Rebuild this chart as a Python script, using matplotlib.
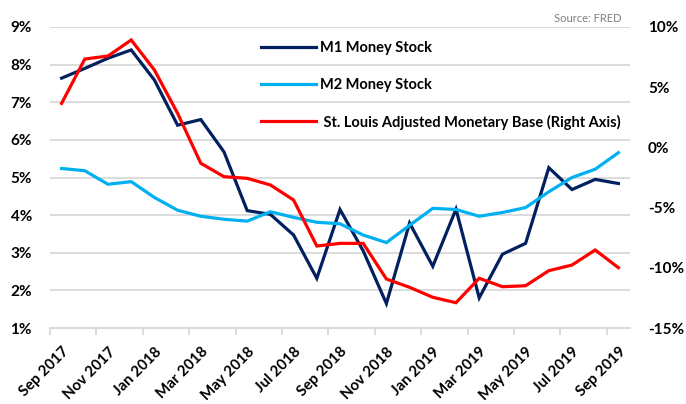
import numpy as np
import matplotlib
matplotlib.use('Agg')
import matplotlib.pyplot as plt
from matplotlib.lines import Line2D
from matplotlib.ticker import FuncFormatter

# monthly observations, Sep 2017 .. Sep 2019
months = ['Sep 2017', 'Oct 2017', 'Nov 2017', 'Dec 2017', 'Jan 2018', 'Feb 2018',
          'Mar 2018', 'Apr 2018', 'May 2018', 'Jun 2018', 'Jul 2018', 'Aug 2018',
          'Sep 2018', 'Oct 2018', 'Nov 2018', 'Dec 2018', 'Jan 2019', 'Feb 2019',
          'Mar 2019', 'Apr 2019', 'May 2019', 'Jun 2019', 'Jul 2019', 'Aug 2019',
          'Sep 2019']

m1 = [7.64, 7.90, 8.17, 8.39, 7.59, 6.39, 6.54, 5.68, 4.12, 4.02, 3.47, 2.32,
      4.15, 3.05, 1.65, 3.79, 2.64, 4.16, 1.80, 2.96, 3.25, 5.26, 4.68, 4.95, 4.84]
m2 = [5.24, 5.18, 4.82, 4.89, 4.47, 4.13, 3.97, 3.89, 3.84, 4.09, 3.94, 3.81,
      3.77, 3.47, 3.27, 3.73, 4.18, 4.15, 3.97, 4.07, 4.20, 4.62, 5.00, 5.22, 5.66]
base = [3.66, 7.34, 7.59, 8.92, 6.43, 2.83, -1.32, -2.43, -2.57, -3.12, -4.37, -8.19,
        -7.97, -7.97, -10.93, -11.62, -12.45, -12.90, -10.87, -11.57, -11.49, -10.24,
        -9.77, -8.52, -9.99]

labels = ['M1 Money Stock', 'M2 Money Stock',
          ' St. Louis Adjusted Monetary Base (Right Axis)']
colors = ['#002060', '#00b0f0', '#ff0000']

plt.rcParams['font.family'] = ['Lato', 'DejaVu Sans']

fig = plt.figure(figsize=(6.86, 4.04), dpi=100)
ax = fig.add_axes([50/686, 1 - 328/404, 580/686, 301/404])
ax2 = ax.twinx()

x = np.arange(len(months))
ax.plot(x, m1, color=colors[0], lw=2.3, solid_joinstyle='miter', zorder=3)
ax.plot(x, m2, color=colors[1], lw=2.3, solid_joinstyle='miter', zorder=3)
ax2.plot(x, base, color=colors[2], lw=2.3, solid_joinstyle='miter', zorder=3)

ax.set_xlim(-0.5, len(months) - 0.5)
ax.set_ylim(1, 9)
ax2.set_ylim(-15, 10)
ax.set_yticks(range(1, 10))
ax2.set_yticks(range(-15, 11, 5))
pct = FuncFormatter(lambda v, p: f'{v:.0f}%')
ax.yaxis.set_major_formatter(pct)
ax2.yaxis.set_major_formatter(pct)

ax.grid(axis='y', color='#d9d9d9', lw=1.3, zorder=0)
ax.set_axisbelow(True)
for a in (ax, ax2):
    for s in ('left', 'right', 'top'):
        a.spines[s].set_visible(False)
    a.spines['bottom'].set_color('#d9d9d9')
    a.spines['bottom'].set_linewidth(1.3)

ax.tick_params(axis='y', length=0, pad=13, labelsize=11)
ax2.tick_params(axis='y', length=0, pad=13, labelsize=11)
for t in ax.get_yticklabels() + ax2.get_yticklabels():
    t.set_fontweight('bold')

# category labels every 2 months, tick marks between categories
ax.set_xticks(x[::2])
ax.set_xticklabels(months[::2], rotation=45, ha='right', rotation_mode='anchor',
                   fontsize=10.8, fontweight='bold')
ax.tick_params(axis='x', which='major', length=0, pad=12)
ax.set_xticks(np.arange(-0.5, len(months) - 1, 2), minor=True)
ax.tick_params(axis='x', which='minor', length=5, color='#d9d9d9', width=1.3)

handles = [Line2D([], [], color=c, lw=2.3) for c in colors]
leg = fig.legend(handles, labels, loc='upper left', bbox_to_anchor=(254/686, 1 - 34/404),
                 frameon=False, handlelength=3.75, handletextpad=0.3, labelspacing=1.55,
                 borderpad=0, prop={'weight': 'bold', 'size': 10.5})

fig.text(622/686, 1 - 19/404, 'Source: FRED', ha='right', va='center',
         fontsize=8, color='#7f7f7f')

fig.savefig('out.png', dpi=100)
